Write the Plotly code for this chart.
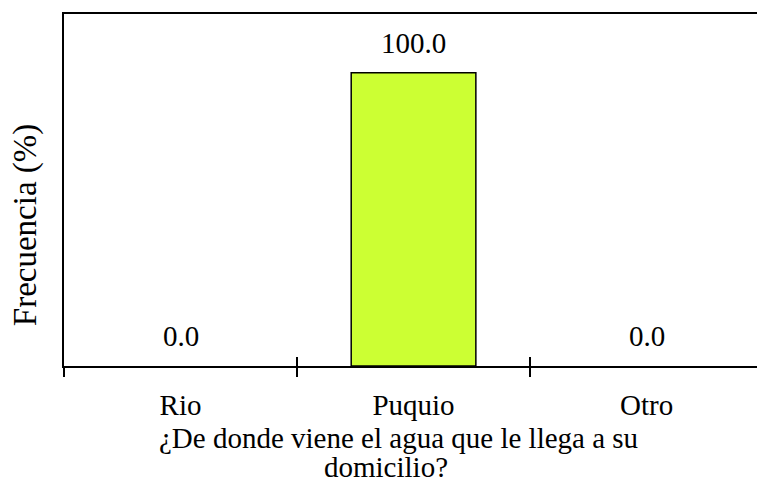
import plotly.graph_objects as go

categories = ["Rio", "Puquio", "Otro"]
values = [0.0, 100.0, 0.0]
y_title = "Frecuencia (%)"
x_title_lines = ["¿De donde viene el agua que le llega a su", "domicilio?"]

FONT = "Liberation Serif"
FS = 29
xpos = list(range(len(categories)))

fig = go.Figure()
fig.add_trace(go.Bar(
    x=xpos, y=values, width=0.535,
    marker=dict(color="#CCFF33",
                line=dict(color="black", width=[1.5 if v > 0 else 0 for v in values])),
    showlegend=False, hoverinfo="skip",
))
fig.add_trace(go.Scatter(x=xpos, y=values, xaxis="x2", mode="markers",
                         marker=dict(opacity=0), showlegend=False, hoverinfo="skip"))

annotations = []
for xi, v in zip(xpos, values):
    annotations.append(dict(x=xi, y=v, xref="x", yref="y", text=f"{v:.1f}",
                            showarrow=False, yanchor="bottom", yshift=12,
                            font=dict(family=FONT, size=FS, color="black")))
annotations.append(dict(x=0, y=(366.5 - 225.5) / 352.5, xref="paper", yref="paper", text=y_title,
                        textangle=-90, showarrow=False, xanchor="center", yanchor="middle",
                        xshift=-(64 - 25), font=dict(family=FONT, size=33, color="black")))
annotations.append(dict(x=(398 - 64) / 693, y=0, xref="paper", yref="paper",
                        text=x_title_lines[0], showarrow=False, xanchor="center",
                        yanchor="middle", yshift=-(438 - 366.5),
                        font=dict(family=FONT, size=FS, color="black")))
annotations.append(dict(x=(386 - 64) / 693, y=0, xref="paper", yref="paper",
                        text=x_title_lines[1], showarrow=False, xanchor="center",
                        yanchor="middle", yshift=-(467 - 366.5),
                        font=dict(family=FONT, size=FS, color="black")))

fig.update_layout(
    template="none",
    width=757, height=482,
    margin=dict(l=64, r=0, t=14, b=115.5, autoexpand=False),
    paper_bgcolor="white", plot_bgcolor="white",
    font=dict(family=FONT, size=FS, color="black"),
    hovermode=False,
    xaxis=dict(range=[-0.5, 2.474], tickvals=xpos, ticktext=categories, automargin=False,
               ticks="", showgrid=False, zeroline=False, ticklabelstandoff=12,
               showline=True, linecolor="black", linewidth=2, mirror=True,
               minor=dict(tickmode="array", tickvals=[-0.5, 0.5, 1.5], ticks="outside",
                          ticklen=9, tickwidth=1.5, tickcolor="black", showgrid=False),
               tickfont=dict(family=FONT, size=FS, color="black")),
    xaxis2=dict(overlaying="x", matches="x", anchor="y", side="bottom", automargin=False,
                tickmode="array", tickvals=[0.5, 1.5], ticks="inside", ticklen=9,
                tickwidth=1.5, tickcolor="black", showticklabels=False,
                showgrid=False, zeroline=False, showline=False),
    yaxis=dict(range=[0, 120], showticklabels=False, ticks="", showgrid=False, automargin=False,
               zeroline=False, showline=True, linecolor="black", linewidth=2),
    annotations=annotations,
    bargap=0,
)

fig.write_html("out.html", config={"displayModeBar": False, "staticPlot": True},
               post_script="document.body.style.margin='0';document.body.style.overflow='hidden';")
